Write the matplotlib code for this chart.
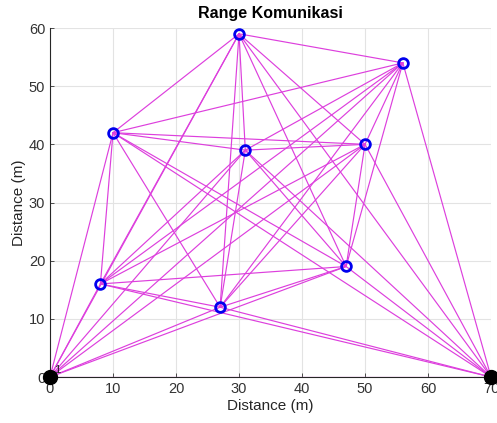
import matplotlib
matplotlib.use("Agg")
import matplotlib.pyplot as plt
from itertools import combinations

node_x = [0, 70, 30, 56, 10, 31, 50, 8, 47, 27]
node_y = [0, 0, 59, 54, 42, 39, 40, 16, 19, 12]
sink_idx = [0, 1]
sensor_idx = [2, 3, 4, 5, 6, 7, 8, 9]
labels = {0: "1"}

plt.rcParams['font.family'] = ['Liberation Sans', 'DejaVu Sans']
fig = plt.figure(figsize=(4.97, 4.23), dpi=100)
ax = fig.add_axes([0.1006, 0.1087, 0.8874, 0.8251])

for i, j in combinations(range(len(node_x)), 2):
    ax.plot([node_x[i], node_x[j]], [node_y[i], node_y[j]], color='#dd3fdd',
            lw=0.85, zorder=2, solid_capstyle='round')

ax.plot([node_x[k] for k in sensor_idx], [node_y[k] for k in sensor_idx], 'o',
        ms=7, mfc='none', mec='#0000ee', mew=2, zorder=4, clip_on=False)
ax.plot([node_x[k] for k in sink_idx], [node_y[k] for k in sink_idx], 'o',
        ms=10, color='black', zorder=5, clip_on=False)
for k, t in labels.items():
    ax.text(node_x[k] + 0.7, node_y[k] + 0.7, t, fontsize=8, color='#222222', zorder=6)

ax.set_xlim(0, 70)
ax.set_ylim(0, 60)
ax.set_xticks(range(0, 71, 10))
ax.set_yticks(range(0, 61, 10))
ax.grid(True, color='#e3e3e3', lw=0.8, zorder=0)
ax.set_axisbelow(True)
for s in ['top', 'right']:
    ax.spines[s].set_visible(False)
for s in ['left', 'bottom']:
    ax.spines[s].set_color('#262626')
    ax.spines[s].set_linewidth(0.8)
ax.tick_params(colors='#333333', labelsize=10.5, length=3, direction='in', width=0.6)
ax.set_xlabel('Distance (m)', fontsize=11, color='#262626', labelpad=2)
ax.set_ylabel('Distance (m)', fontsize=11, color='#262626', labelpad=2)
ax.set_title('Range Komunikasi', fontsize=11.5, fontweight='bold', pad=7)

fig.savefig('out.png', dpi=100)
